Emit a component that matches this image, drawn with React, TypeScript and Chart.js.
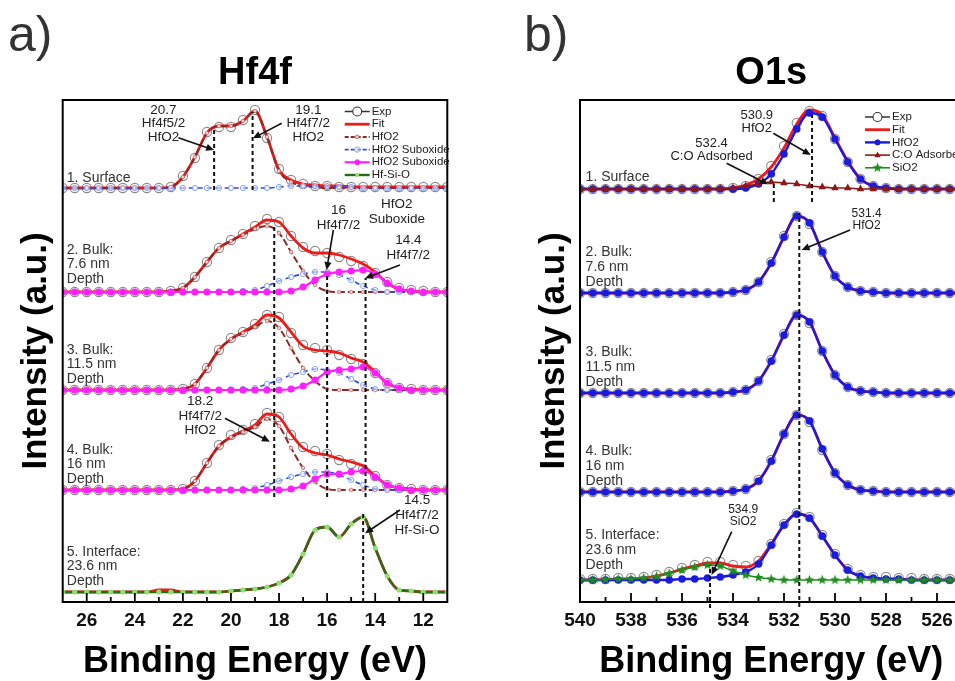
import React, { useEffect, useRef } from "react";
import { Chart, registerables } from "chart.js";
Chart.register(...registerables);

// ---------------- DATA: panel a (Hf4f) ----------------
const ENERGY_A = [27, 26.5, 26, 25.5, 25, 24.5, 24, 23.5, 23, 22.5, 22, 21.5, 21, 20.5, 20, 19.5, 19, 18.5, 18, 17.5, 17, 16.5, 16, 15.5, 15, 14.5, 14, 13.5, 13, 12.5, 12, 11.5, 11];
const TICKS_A = [26, 24, 22, 20, 18, 16, 14, 12];

// 1. Surface
const EXP_A1 = [0, 0, 0, 0, 0, 0, 0, 0, 0, 0.01, 0.12, 0.30, 0.56, 0.61, 0.61, 0.68, 0.78, 0.50, 0.19, 0.08, 0.04, 0.02, 0.02, 0.01, 0.01, 0.01, 0.01, 0.01, 0.01, 0.01, 0.01, 0.01, 0.01];
const FIT_A1 = [0, 0, 0, 0, 0, 0, 0, 0, 0, 0.01, 0.11, 0.31, 0.55, 0.62, 0.62, 0.67, 0.77, 0.51, 0.18, 0.08, 0.04, 0.03, 0.02, 0.02, 0.01, 0.01, 0.01, 0.01, 0.01, 0.01, 0.01, 0.01, 0.01];
const HFO2_A1 = [0, 0, 0, 0, 0, 0, 0, 0, 0, 0.01, 0.11, 0.31, 0.55, 0.62, 0.62, 0.67, 0.77, 0.51, 0.17, 0.06, 0.02, 0.01, 0, 0, 0, 0, 0, 0, 0, 0, 0, 0, 0];
const SUBA_A1 = [0, 0, 0, 0, 0, 0, 0, 0, 0, 0, 0, 0, 0, 0, 0, 0, 0, 0, 0.01, 0.02, 0.02, 0.02, 0.02, 0.01, 0.01, 0, 0, 0, 0, 0, 0, 0, 0];
// 2. Bulk 7.6 nm
const EXP_A2 = [0, 0, 0, 0, 0, 0, 0, 0, 0, 0.01, 0.04, 0.15, 0.30, 0.44, 0.52, 0.58, 0.66, 0.73, 0.70, 0.56, 0.45, 0.41, 0.39, 0.35, 0.31, 0.26, 0.19, 0.10, 0.04, 0.02, 0.01, 0, 0];
const FIT_A2 = [0, 0, 0, 0, 0, 0, 0, 0, 0, 0.01, 0.04, 0.15, 0.30, 0.44, 0.51, 0.58, 0.65, 0.72, 0.70, 0.56, 0.44, 0.39, 0.39, 0.37, 0.33, 0.28, 0.20, 0.09, 0.03, 0.01, 0, 0, 0];
const HFO2_A2 = [0, 0, 0, 0, 0, 0, 0, 0, 0, 0.01, 0.04, 0.15, 0.30, 0.44, 0.51, 0.57, 0.63, 0.66, 0.59, 0.40, 0.21, 0.07, 0.01, 0, 0, 0, 0, 0, 0, 0, 0, 0, 0];
const SUBA_A2 = [0, 0, 0, 0, 0, 0, 0, 0, 0, 0, 0, 0, 0, 0, 0, 0.01, 0.02, 0.06, 0.11, 0.15, 0.18, 0.20, 0.20, 0.17, 0.12, 0.06, 0.02, 0, 0, 0, 0, 0, 0];
const SUBB_A2 = [0, 0, 0, 0, 0, 0, 0, 0, 0, 0, 0, 0, 0, 0, 0, 0, 0, 0, 0, 0.01, 0.05, 0.12, 0.18, 0.20, 0.21, 0.22, 0.18, 0.09, 0.03, 0.01, 0, 0, 0];
// 3. Bulk 11.5 nm
const EXP_A3 = [0, 0, 0, 0, 0, 0, 0, 0, 0, 0, 0.01, 0.06, 0.22, 0.40, 0.52, 0.58, 0.66, 0.75, 0.73, 0.57, 0.45, 0.42, 0.40, 0.35, 0.31, 0.26, 0.17, 0.07, 0.02, 0.01, 0, 0, 0];
const FIT_A3 = [0, 0, 0, 0, 0, 0, 0, 0, 0, 0, 0.01, 0.06, 0.22, 0.40, 0.51, 0.58, 0.65, 0.75, 0.72, 0.58, 0.44, 0.40, 0.39, 0.37, 0.32, 0.28, 0.18, 0.07, 0.02, 0.01, 0, 0, 0];
const HFO2_A3 = [0, 0, 0, 0, 0, 0, 0, 0, 0, 0, 0.01, 0.06, 0.22, 0.40, 0.51, 0.57, 0.63, 0.69, 0.62, 0.42, 0.22, 0.09, 0.01, 0, 0, 0, 0, 0, 0, 0, 0, 0, 0];
const SUBA_A3 = [0, 0, 0, 0, 0, 0, 0, 0, 0, 0, 0, 0, 0, 0, 0, 0.01, 0.02, 0.06, 0.10, 0.15, 0.18, 0.21, 0.20, 0.17, 0.11, 0.05, 0.01, 0, 0, 0, 0, 0, 0];
const SUBB_A3 = [0, 0, 0, 0, 0, 0, 0, 0, 0, 0, 0, 0, 0, 0, 0, 0, 0, 0, 0, 0.01, 0.04, 0.10, 0.18, 0.20, 0.21, 0.23, 0.17, 0.07, 0.02, 0, 0, 0, 0];
// 4. Bulk 16 nm
const EXP_A4 = [0, 0, 0, 0, 0, 0, 0, 0, 0, 0, 0.01, 0.09, 0.27, 0.45, 0.55, 0.60, 0.66, 0.77, 0.73, 0.55, 0.43, 0.39, 0.36, 0.30, 0.26, 0.21, 0.14, 0.05, 0.02, 0.01, 0, 0, 0];
const FIT_A4 = [0, 0, 0, 0, 0, 0, 0, 0, 0, 0, 0.01, 0.09, 0.27, 0.44, 0.53, 0.59, 0.65, 0.76, 0.73, 0.56, 0.42, 0.37, 0.35, 0.31, 0.28, 0.24, 0.14, 0.05, 0.02, 0.01, 0, 0, 0];
const HFO2_A4 = [0, 0, 0, 0, 0, 0, 0, 0, 0, 0, 0.01, 0.09, 0.27, 0.44, 0.53, 0.58, 0.63, 0.71, 0.64, 0.42, 0.22, 0.08, 0.01, 0, 0, 0, 0, 0, 0, 0, 0, 0, 0];
const SUBA_A4 = [0, 0, 0, 0, 0, 0, 0, 0, 0, 0, 0, 0, 0, 0, 0, 0.01, 0.02, 0.05, 0.09, 0.13, 0.16, 0.18, 0.18, 0.15, 0.10, 0.05, 0.01, 0, 0, 0, 0, 0, 0];
const SUBB_A4 = [0, 0, 0, 0, 0, 0, 0, 0, 0, 0, 0, 0, 0, 0, 0, 0, 0, 0, 0, 0.01, 0.04, 0.11, 0.16, 0.16, 0.18, 0.19, 0.13, 0.05, 0.02, 0, 0, 0, 0];
// 5. Interface 23.6 nm
const FIT_A5 = [0, 0, 0, 0, 0, 0, 0, 0, 0.02, 0.02, 0, 0, 0, 0, 0.01, 0.02, 0.03, 0.05, 0.09, 0.17, 0.38, 0.62, 0.65, 0.55, 0.68, 0.75, 0.44, 0.16, 0.02, 0.01, 0, 0, 0];
const HFSIO_A5 = [0, 0, 0, 0, 0, 0, 0, 0, 0, 0, 0, 0, 0, 0, 0.01, 0.02, 0.03, 0.05, 0.09, 0.17, 0.38, 0.62, 0.65, 0.55, 0.68, 0.75, 0.44, 0.16, 0.02, 0.01, 0, 0, 0];

// ---------------- DATA: panel b (O1s) ----------------
const ENERGY_B = [540, 539.5, 539, 538.5, 538, 537.5, 537, 536.5, 536, 535.5, 535, 534.5, 534, 533.5, 533, 532.5, 532, 531.5, 531, 530.5, 530, 529.5, 529, 528.5, 528, 527.5, 527, 526.5, 526, 525.5, 525];
const TICKS_B = [540, 538, 536, 534, 532, 530, 528, 526];

const EXP_B1 = [0, 0, 0, 0, 0, 0, 0, 0, 0, 0, 0, 0, 0.01, 0.03, 0.10, 0.23, 0.43, 0.66, 0.78, 0.73, 0.50, 0.27, 0.10, 0.03, 0.01, 0, 0, 0, 0, 0, 0];
const FIT_B1 = [0, 0, 0, 0, 0, 0, 0, 0, 0, 0, 0, 0, 0.01, 0.04, 0.10, 0.22, 0.41, 0.65, 0.79, 0.74, 0.51, 0.28, 0.10, 0.03, 0.01, 0, 0, 0, 0, 0, 0];
const HFO2_B1 = [0, 0, 0, 0, 0, 0, 0, 0, 0, 0, 0, 0, 0, 0.01, 0.05, 0.15, 0.35, 0.60, 0.76, 0.72, 0.50, 0.27, 0.10, 0.03, 0.01, 0, 0, 0, 0, 0, 0];
const CO_B1 = [0, 0, 0, 0, 0, 0, 0, 0, 0, 0, 0, 0.005, 0.01, 0.03, 0.05, 0.07, 0.06, 0.05, 0.03, 0.02, 0.01, 0.01, 0, 0, 0, 0, 0, 0, 0, 0, 0];
const EXP_B2 = [0, 0, 0, 0, 0, 0, 0, 0, 0, 0, 0, 0, 0.01, 0.03, 0.11, 0.31, 0.57, 0.77, 0.69, 0.41, 0.17, 0.06, 0.02, 0.01, 0, 0, 0, 0, 0, 0, 0];
const HFO2_B2 = [0, 0, 0, 0, 0, 0, 0, 0, 0, 0, 0, 0, 0.01, 0.03, 0.11, 0.30, 0.56, 0.77, 0.70, 0.41, 0.17, 0.06, 0.02, 0.01, 0, 0, 0, 0, 0, 0, 0];
const EXP_B3 = [0, 0, 0, 0, 0, 0, 0, 0, 0, 0, 0, 0, 0.01, 0.03, 0.12, 0.33, 0.59, 0.78, 0.70, 0.42, 0.18, 0.06, 0.02, 0.01, 0, 0, 0, 0, 0, 0, 0];
const HFO2_B3 = [0, 0, 0, 0, 0, 0, 0, 0, 0, 0, 0, 0, 0.01, 0.03, 0.12, 0.32, 0.58, 0.78, 0.71, 0.42, 0.18, 0.06, 0.02, 0.01, 0, 0, 0, 0, 0, 0, 0];
const EXP_B4 = [0, 0, 0, 0, 0, 0, 0, 0, 0, 0, 0, 0, 0.01, 0.03, 0.12, 0.32, 0.58, 0.77, 0.70, 0.42, 0.19, 0.07, 0.02, 0.01, 0, 0, 0, 0, 0, 0, 0];
const HFO2_B4 = [0, 0, 0, 0, 0, 0, 0, 0, 0, 0, 0, 0, 0.01, 0.03, 0.11, 0.31, 0.58, 0.77, 0.71, 0.43, 0.19, 0.07, 0.02, 0.01, 0, 0, 0, 0, 0, 0, 0];
const EXP_B5 = [0.01, 0.01, 0.01, 0.02, 0.02, 0.03, 0.05, 0.08, 0.12, 0.15, 0.18, 0.18, 0.15, 0.14, 0.19, 0.36, 0.56, 0.67, 0.63, 0.45, 0.26, 0.11, 0.05, 0.03, 0.03, 0.02, 0.02, 0.01, 0.01, 0.01, 0.01];
const FIT_B5 = [0, 0, 0.005, 0.01, 0.01, 0.02, 0.04, 0.07, 0.11, 0.14, 0.17, 0.17, 0.14, 0.13, 0.19, 0.36, 0.55, 0.66, 0.62, 0.44, 0.25, 0.10, 0.04, 0.02, 0.01, 0.01, 0, 0, 0, 0, 0];
const HFO2_B5 = [0, 0, 0, 0, 0, 0, 0, 0, 0.01, 0.01, 0.02, 0.03, 0.05, 0.08, 0.16, 0.35, 0.55, 0.66, 0.62, 0.44, 0.25, 0.10, 0.04, 0.02, 0.01, 0.01, 0, 0, 0, 0, 0];
const SIO2_B5 = [0, 0, 0.005, 0.01, 0.01, 0.02, 0.035, 0.065, 0.10, 0.13, 0.15, 0.14, 0.09, 0.05, 0.025, 0.01, 0, 0, 0, 0, 0, 0, 0, 0, 0, 0, 0, 0, 0, 0, 0];

// spectra stacking (vertical offsets in a.u.)
const OFFSETS_A = [4.04, 3.0, 2.02, 1.02, 0];
const OFFSETS_B = [4.03, 2.99, 1.99, 1.0, 0.12];

const SPECTRUM_NAMES = [
  ["1. Surface"],
  ["2. Bulk:", "7.6 nm", "Depth"],
  ["3. Bulk:", "11.5 nm", "Depth"],
  ["4. Bulk:", "16 nm", "Depth"],
  ["5. Interface:", "23.6 nm", "Depth"],
];

// peak markers (binding energies) and their vertical extent
const PEAKS_A = [
  { e: 20.7, y0: 4.02, y1: 4.64 },
  { e: 19.1, y0: 4.02, y1: 4.8 },
  { e: 18.2, y0: 0.95, y1: 3.66 },
  { e: 16.0, y0: 0.95, y1: 3.19 },
  { e: 14.4, y0: 0.95, y1: 3.14 },
  { e: 14.5, y0: -0.1, y1: 0.79 },
];
const PEAKS_B = [
  { e: 530.9, y0: 3.9, y1: 4.77 },
  { e: 532.4, y0: 3.9, y1: 4.09 },
  { e: 531.4, y0: -0.15, y1: 3.79 },
  { e: 534.9, y0: -0.16, y1: 0.27 },
];

const NOTES_A = [
  { lines: ["20.7", "Hf4f5/2", "HfO2"], x: 22.81, y: 4.82, gap: 13.4, size: 13.5, from: [22.19, 4.543], to: [20.7, 4.42] },
  { lines: ["19.1", "Hf4f7/2", "HfO2"], x: 16.78, y: 4.82, gap: 13.4, size: 13.5, from: [17.89, 4.687], to: [19.09, 4.537] },
  { lines: ["HfO2", "Suboxide"], x: 13.1, y: 3.88, gap: 15, size: 13.5 },
  { lines: ["16", "Hf4f7/2"], x: 15.53, y: 3.82, gap: 15, size: 13.5, from: [15.74, 3.62], to: [16.02, 3.22] },
  { lines: ["14.4", "Hf4f7/2"], x: 12.62, y: 3.52, gap: 15, size: 13.5, from: [12.97, 3.27], to: [14.42, 3.137] },
  { lines: ["18.2", "Hf4f7/2", "HfO2"], x: 21.28, y: 1.903, gap: 14.2, size: 13.5, from: [20.25, 1.737], to: [18.38, 1.503] },
  { lines: ["14.5", "Hf4f7/2", "Hf-Si-O"], x: 12.26, y: 0.92, gap: 15, size: 13.5, from: [12.97, 0.82], to: [14.42, 0.587] },
];
const NOTES_B = [
  { lines: ["530.9", "HfO2"], x: 533.07, y: 4.77, gap: 13.3, size: 13, from: [532.42, 4.587], to: [530.95, 4.37] },
  { lines: ["532.4", "C:O Adsorbed"], x: 534.84, y: 4.487, gap: 13.4, size: 13, from: [534.25, 4.287], to: [532.62, 4.077] },
  { lines: ["531.4", "HfO2"], x: 528.76, y: 3.787, gap: 12, size: 12, from: [529.41, 3.62], to: [531.31, 3.42] },
  { lines: ["534.9", "SiO2"], x: 533.6, y: 0.827, gap: 12.4, size: 12, from: [534.05, 0.603], to: [534.84, 0.17] },
];

const LEGEND_A = [
  { label: "Exp", kind: "exp" },
  { label: "Fit", kind: "fit" },
  { label: "HfO2", kind: "hfo2a" },
  { label: "HfO2 Suboxide", kind: "suba" },
  { label: "HfO2 Suboxide", kind: "subb" },
  { label: "Hf-Si-O", kind: "hfsio" },
];
const LEGEND_B = [
  { label: "Exp", kind: "exp" },
  { label: "Fit", kind: "fit" },
  { label: "HfO2", kind: "hfo2b" },
  { label: "C:O Adsorbed", kind: "co" },
  { label: "SiO2", kind: "sio2" },
];

// ---------------- styles ----------------
const FONT = "'Liberation Sans', Arial, Helvetica, sans-serif";

function makeStar(color: string, size: number) {
  const c = document.createElement("canvas");
  c.width = size;
  c.height = size;
  const g = c.getContext("2d")!;
  g.fillStyle = color;
  g.beginPath();
  const cx = size / 2, cy = size / 2, R = size / 2 - 0.3, r = R * 0.42;
  for (let k = 0; k < 10; k++) {
    const ang = -Math.PI / 2 + (k * Math.PI) / 5;
    const rad = k % 2 === 0 ? R : r;
    const px = cx + rad * Math.cos(ang), py = cy + rad * Math.sin(ang);
    if (k === 0) g.moveTo(px, py); else g.lineTo(px, py);
  }
  g.closePath();
  g.fill();
  return c;
}

function styles(star: any): Record<string, any> {
  return {
    exp: { showLine: false, pointRadius: 4.6, pointBorderColor: "rgba(100,100,100,0.75)", pointBackgroundColor: "rgba(255,255,255,0.25)", pointBorderWidth: 1.1, borderColor: "#333", order: 6, lineColor: "#333", lineWidth: 1.5 },
    fit: { borderColor: "#ee1b1b", borderWidth: 2.8, pointRadius: 0, order: 5 },
    hfo2a: { borderColor: "#8a2b2b", borderWidth: 2, borderDash: [7, 3], pointRadius: 1.8, pointBackgroundColor: "#f4cccc", pointBorderColor: "#c07070", pointBorderWidth: 0.8, order: 4 },
    suba: { borderColor: "#2a4de0", borderWidth: 1.6, borderDash: [5, 4], pointRadius: 2.6, pointBackgroundColor: "rgba(255,255,255,0.5)", pointBorderColor: "#86a2f2", pointBorderWidth: 1, order: 3 },
    subb: { borderColor: "#ff1fff", borderWidth: 2.2, pointRadius: 2.5, pointBackgroundColor: "#ff1fff", pointBorderColor: "#ff1fff", order: 2 },
    hfsio: { borderColor: "#2f6a1c", borderWidth: 2.4, pointRadius: 1.4, pointBackgroundColor: "#90e070", pointBorderColor: "#90e070", order: 2 },
    hfo2b: { borderColor: "#1b1be0", borderWidth: 2.4, pointRadius: 2.6, pointBackgroundColor: "#1b1be0", pointBorderColor: "#1b1be0", order: 4 },
    co: { borderColor: "#8b1a1a", borderWidth: 1.6, pointStyle: "triangle", pointRadius: 2.8, pointBackgroundColor: "#8b1a1a", pointBorderColor: "#8b1a1a", order: 3 },
    sio2: { borderColor: "#1e8c1e", borderWidth: 1.6, pointStyle: star, pointRadius: 5, pointBackgroundColor: "#1e8c1e", pointBorderColor: "#1e8c1e", order: 2 },
  };
}

function series(label: string, xs: number[], ys: number[], off: number, st: any) {
  const { lineColor, lineWidth, ...rest } = st;
  return {
    label,
    data: xs.map((x, i) => ({ x, y: ys[i] + off })),
    fill: false,
    cubicInterpolationMode: "monotone",
    pointHoverRadius: 0,
    ...rest,
  };
}

function peakLines(peaks: any[]) {
  return peaks.map((p) => ({
    label: "peak " + p.e,
    data: [{ x: p.e, y: p.y0 }, { x: p.e, y: p.y1 }],
    borderColor: "#111",
    borderWidth: 2,
    borderDash: [4, 3],
    pointRadius: 0,
    fill: false,
    order: 0,
    clip: false,
  }));
}

function drawMarker(ctx: CanvasRenderingContext2D, kind: string, st: any, x: number, y: number) {
  ctx.save();
  ctx.setLineDash([]);
  if (kind === "exp") {
    ctx.beginPath();
    ctx.arc(x, y, 4.5, 0, Math.PI * 2);
    ctx.fillStyle = "#fff";
    ctx.fill();
    ctx.lineWidth = 1.1;
    ctx.strokeStyle = "#333";
    ctx.stroke();
  } else if (kind === "co") {
    ctx.beginPath();
    ctx.moveTo(x, y - 3.5);
    ctx.lineTo(x + 3.2, y + 2.2);
    ctx.lineTo(x - 3.2, y + 2.2);
    ctx.closePath();
    ctx.fillStyle = st.pointBackgroundColor;
    ctx.fill();
  } else if (kind === "sio2") {
    const img = st.pointStyle;
    ctx.drawImage(img, x - img.width / 2, y - img.height / 2);
  } else if (kind !== "fit") {
    ctx.beginPath();
    ctx.arc(x, y, st.pointRadius, 0, Math.PI * 2);
    ctx.fillStyle = st.pointBackgroundColor;
    ctx.fill();
    if (st.pointBorderColor) {
      ctx.lineWidth = 1;
      ctx.strokeStyle = st.pointBorderColor;
      ctx.stroke();
    }
  }
  ctx.restore();
}

function makeDecor(cfg: any) {
  return {
    id: "decor",
    afterDatasetsDraw(chart: any) {
      const { ctx, chartArea: ca } = chart;
      const xs = chart.scales.x, ys = chart.scales.y;
      const X = (v: number) => xs.getPixelForValue(v);
      const Y = (v: number) => ys.getPixelForValue(v);
      ctx.save();
      ctx.setLineDash([]);
      // frame
      ctx.strokeStyle = "#000";
      ctx.lineWidth = 2;
      ctx.strokeRect(ca.left, ca.top, ca.right - ca.left, ca.bottom - ca.top);
      // inward ticks (major at labelled ticks, one minor between)
      ctx.lineWidth = 1.8;
      const majors = xs.ticks.map((t: any) => t.value);
      const minors = new Set<number>();
      majors.forEach((v: number) => {
        [v - 1, v + 1].forEach((m) => {
          if (m > xs.min && m < xs.max && !majors.includes(m)) minors.add(m);
        });
      });
      majors.forEach((v: number) => {
        const px = X(v);
        ctx.beginPath();
        ctx.moveTo(px, ca.bottom);
        ctx.lineTo(px, ca.bottom - 9);
        ctx.stroke();
      });
      minors.forEach((v: number) => {
        const px = X(v);
        ctx.beginPath();
        ctx.moveTo(px, ca.bottom);
        ctx.lineTo(px, ca.bottom - 5);
        ctx.stroke();
      });
      // spectrum names
      ctx.fillStyle = "#333";
      ctx.font = `14px ${FONT}`;
      ctx.textAlign = "left";
      ctx.textBaseline = "middle";
      cfg.names.forEach((lines: string[], i: number) => {
        const y0 = Y(cfg.namePos[i]);
        lines.forEach((t, k) => ctx.fillText(t, X(cfg.nameX), y0 + k * cfg.nameGap));
      });
      // notes + arrows
      cfg.notes.forEach((n: any) => {
        ctx.fillStyle = "#222";
        ctx.font = `${n.size}px ${FONT}`;
        ctx.textAlign = "center";
        const y0 = Y(n.y);
        n.lines.forEach((t: string, k: number) => ctx.fillText(t, X(n.x), y0 + k * n.gap));
        if (n.from) {
          const x1 = X(n.from[0]), y1 = Y(n.from[1]);
          const x2 = X(n.to[0]), y2 = Y(n.to[1]);
          const ang = Math.atan2(y2 - y1, x2 - x1);
          const hl = 8, hw = 3.6;
          ctx.strokeStyle = "#111";
          ctx.lineWidth = 1.6;
          ctx.beginPath();
          ctx.moveTo(x1, y1);
          ctx.lineTo(x2 - Math.cos(ang) * hl * 0.8, y2 - Math.sin(ang) * hl * 0.8);
          ctx.stroke();
          ctx.fillStyle = "#111";
          ctx.beginPath();
          ctx.moveTo(x2, y2);
          ctx.lineTo(x2 - Math.cos(ang) * hl - Math.sin(ang) * hw, y2 - Math.sin(ang) * hl + Math.cos(ang) * hw);
          ctx.lineTo(x2 - Math.cos(ang) * hl + Math.sin(ang) * hw, y2 - Math.sin(ang) * hl - Math.cos(ang) * hw);
          ctx.closePath();
          ctx.fill();
        }
      });
      // legend
      cfg.legend.forEach((item: any, i: number) => {
        const st = cfg.styles[item.kind];
        const y = ca.top + cfg.legTop + i * cfg.legStep;
        const xa = ca.left + cfg.legX, xb = xa + 25;
        ctx.save();
        ctx.beginPath();
        ctx.strokeStyle = st.lineColor || st.borderColor;
        ctx.lineWidth = st.lineWidth || st.borderWidth;
        ctx.setLineDash(st.borderDash ? [4, 2] : []);
        ctx.moveTo(xa, y);
        ctx.lineTo(xb, y);
        ctx.stroke();
        ctx.restore();
        drawMarker(ctx, item.kind, st, (xa + xb) / 2, y);
        ctx.fillStyle = "#222";
        ctx.font = `11.5px ${FONT}`;
        ctx.textAlign = "left";
        ctx.textBaseline = "middle";
        ctx.fillText(item.label, xb + 2, y);
      });
      ctx.restore();
    },
  };
}

function baseOptions(title: string, xmin: number, xmax: number, ticks: number[], rightPad: number, yWidth: number, yTitlePad: number) {
  return {
    animation: false,
    responsive: false,
    maintainAspectRatio: false,
    events: [],
    layout: { padding: { left: 0, right: rightPad, top: 0, bottom: 0 } },
    plugins: {
      legend: { display: false },
      tooltip: { enabled: false },
      title: {
        display: true,
        text: title,
        fullSize: false,
        color: "#000",
        font: { family: FONT, size: 38, weight: "bold", lineHeight: 1 },
        padding: { top: 54.5, bottom: 7.5 },
      },
    },
    scales: {
      x: {
        type: "linear",
        reverse: true,
        min: xmin,
        max: xmax,
        grid: { display: false, drawTicks: false },
        border: { display: false },
        afterBuildTicks: (s: any) => { s.ticks = ticks.map((v) => ({ value: v })); },
        ticks: { autoSkip: false, maxRotation: 0, padding: 7, color: "#111", font: { family: FONT, size: 19, weight: "bold", lineHeight: 1.2 } },
        title: { display: true, text: "Binding Energy (eV)", color: "#000", font: { family: FONT, size: 36, weight: "bold", lineHeight: 1 }, padding: { top: 0, bottom: 1 } },
        afterFit: (s: any) => { s.height = 79; },
      },
      y: {
        type: "linear",
        min: -0.1,
        max: 4.92,
        grid: { display: false, drawTicks: false },
        border: { display: false },
        ticks: { display: false },
        title: { display: true, text: "Intensity (a.u.)", color: "#000", font: { family: FONT, size: 35, weight: "bold", lineHeight: 1 }, padding: { top: yTitlePad, bottom: 0 } },
        afterFit: (s: any) => { s.width = yWidth; },
      },
    },
  };
}

function configA(st: any) {
  const E = ENERGY_A;
  const sets: any[] = [];
  // 1. Surface (no second suboxide)
  sets.push(series("Exp", E, EXP_A1, OFFSETS_A[0], st.exp));
  sets.push(series("Fit", E, FIT_A1, OFFSETS_A[0], st.fit));
  sets.push(series("HfO2", E, HFO2_A1, OFFSETS_A[0], st.hfo2a));
  sets.push(series("HfO2 Suboxide", E, SUBA_A1, OFFSETS_A[0], st.suba));
  const groups = [
    [EXP_A2, FIT_A2, HFO2_A2, SUBA_A2, SUBB_A2],
    [EXP_A3, FIT_A3, HFO2_A3, SUBA_A3, SUBB_A3],
    [EXP_A4, FIT_A4, HFO2_A4, SUBA_A4, SUBB_A4],
  ];
  groups.forEach((g, k) => {
    const off = OFFSETS_A[k + 1];
    sets.push(series("Exp", E, g[0], off, st.exp));
    sets.push(series("Fit", E, g[1], off, st.fit));
    sets.push(series("HfO2", E, g[2], off, st.hfo2a));
    sets.push(series("HfO2 Suboxide", E, g[3], off, st.suba));
    sets.push(series("HfO2 Suboxide", E, g[4], off, st.subb));
  });
  sets.push(series("Fit", E, FIT_A5, OFFSETS_A[4], st.fit));
  sets.push(series("Hf-Si-O", E, HFSIO_A5, OFFSETS_A[4], st.hfsio));
  sets.push(...peakLines(PEAKS_A));
  return {
    type: "line",
    data: { datasets: sets },
    options: baseOptions("Hf4f", 11, 27, TICKS_A, 32.7, 62.7, 19),
    plugins: [makeDecor({ names: SPECTRUM_NAMES, namePos: [4.137, 3.42, 2.42, 1.42, 0.403], nameX: 26.83, nameGap: 14.6, notes: NOTES_A, legend: LEGEND_A, styles: st, legTop: 11.5, legStep: 12.7, legX: 282 })],
  };
}

function configB(st: any) {
  const E = ENERGY_B;
  const sets: any[] = [];
  sets.push(series("Exp", E, EXP_B1, OFFSETS_B[0], st.exp));
  sets.push(series("Fit", E, FIT_B1, OFFSETS_B[0], st.fit));
  sets.push(series("HfO2", E, HFO2_B1, OFFSETS_B[0], st.hfo2b));
  sets.push(series("C:O Adsorbed", E, CO_B1, OFFSETS_B[0], st.co));
  const mid = [[EXP_B2, HFO2_B2], [EXP_B3, HFO2_B3], [EXP_B4, HFO2_B4]];
  mid.forEach((g, k) => {
    const off = OFFSETS_B[k + 1];
    sets.push(series("Exp", E, g[0], off, st.exp));
    sets.push(series("Fit", E, g[1], off, st.fit));
    sets.push(series("HfO2", E, g[1], off, st.hfo2b));
  });
  sets.push(series("Exp", E, EXP_B5, OFFSETS_B[4], st.exp));
  sets.push(series("Fit", E, FIT_B5, OFFSETS_B[4], st.fit));
  sets.push(series("HfO2", E, HFO2_B5, OFFSETS_B[4], st.hfo2b));
  sets.push(series("SiO2", E, SIO2_B5, OFFSETS_B[4], st.sio2));
  sets.push(...peakLines(PEAKS_B));
  return {
    type: "line",
    data: { datasets: sets },
    options: baseOptions("O1s", 525, 540, TICKS_B, 37.5, 100, 57),
    plugins: [makeDecor({ names: SPECTRUM_NAMES, namePos: [4.153, 3.403, 2.403, 1.41, 0.57], nameX: 539.78, nameGap: 15, notes: NOTES_B, legend: LEGEND_B, styles: st, legTop: 17, legStep: 12.7, legX: 285 })],
  };
}

export default function App() {
  const refA = useRef<HTMLCanvasElement>(null);
  const refB = useRef<HTMLCanvasElement>(null);
  useEffect(() => {
    const st = styles(makeStar("#1e8c1e", 11));
    const a = new Chart(refA.current as any, configA(st) as any);
    const b = new Chart(refB.current as any, configB(st) as any);
    return () => {
      a.destroy();
      b.destroy();
    };
  }, []);
  const big: React.CSSProperties = { position: "absolute", top: 9.4, fontFamily: FONT, fontSize: 50, lineHeight: "50px", color: "#333", margin: 0 };
  return (
    <div style={{ position: "absolute", left: 0, top: 0, width: 955, height: 681, overflow: "hidden", background: "#fff" }}>
      <canvas ref={refA} width={480} height={681} style={{ position: "absolute", left: 0, top: 0, width: 480, height: 681 }} />
      <canvas ref={refB} width={520} height={681} style={{ position: "absolute", left: 480, top: 0, width: 520, height: 681 }} />
      <div style={{ ...big, left: 8 }}>a)</div>
      <div style={{ ...big, left: 524 }}>b)</div>
    </div>
  );
}
